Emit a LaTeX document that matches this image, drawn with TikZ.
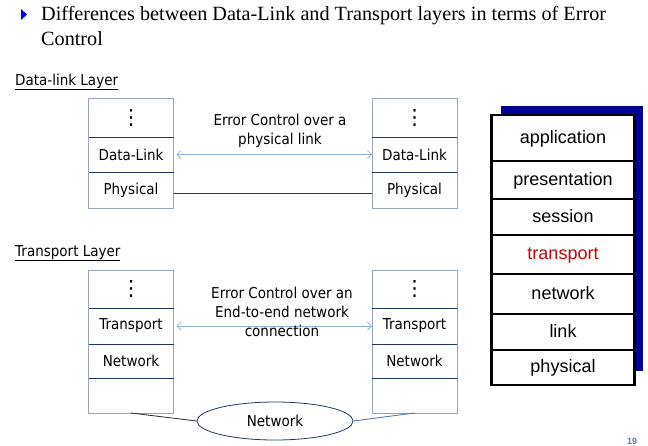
\documentclass[tikz,border=0pt]{standalone}
\usepackage{fontspec}
\setmainfont{Liberation Serif}
\newfontfamily\tahoma[FakeStretch=0.9]{DejaVu Sans}
\newfontfamily\dejavu{DejaVu Sans}
\newfontfamily\arial{Liberation Sans}
\usetikzlibrary{arrows.meta,shapes.geometric,positioning}
\definecolor{framegray}{RGB}{150,165,195}
\definecolor{navy}{RGB}{31,56,100}
\definecolor{linkblue}{RGB}{141,179,226}
\definecolor{netblue}{RGB}{79,111,168}
\definecolor{osinavy}{RGB}{0,0,150}
\definecolor{osired}{RGB}{204,0,0}
\definecolor{bulletblue}{RGB}{0,0,255}
\definecolor{pagegray}{RGB}{90,125,165}
\newcommand{\stackdots}{{\dejavu\fontsize{21}{21}\selectfont ⋮}}

\begin{document}
\begin{tikzpicture}[x=1pt,y=-1pt,
  stackcell/.style={minimum width=85pt,inner sep=0pt,outer sep=0pt,font=\tahoma\fontsize{15}{18}\selectfont},
  stackframe/.style={draw=framegray,line width=0.8pt},
  divider/.style={draw=navy,line width=1pt},
  osicell/.style={draw=black,fill=white,line width=2.4pt,minimum width=143pt,inner sep=0pt,outer sep=0pt,
    text height=13pt,text depth=3pt,font=\arial\fontsize{18}{21}\selectfont},
  peerlink/.style={linkblue,line width=0.8pt,{Straight Barb[length=4pt,width=8pt]}-{Straight Barb[length=4pt,width=8pt]}},
  linknote/.style={align=center,font=\tahoma\fontsize{15}{19}\selectfont},
  heading/.style={anchor=base west,inner sep=0pt,font=\tahoma\fontsize{15}{18}\selectfont}]
\useasboundingbox (0,0) rectangle (648,445);

% title
\fill[bulletblue] (21,9) -- (27,14.5) -- (21,20) -- cycle;
\node[anchor=north west,inner sep=0pt,align=left,font=\fontsize{20.2}{25}\selectfont] (title) at (41,6.3)
  {Differences between Data-Link and Transport layers in terms of Error\\Control};

% data-link layer
\node[heading] (dlhead) at (15,85) {\underline{Data-link Layer}};
\node[stackcell,minimum height=39pt] (dlAdots) at (131,117.5) {\stackdots};
\node[stackcell,minimum height=35pt] (dlAlink) at (131,154.5) {Data-Link};
\node[stackcell,minimum height=36pt] (dlAphys) at (131,190) {Physical};
\node[stackcell,minimum height=39pt] (dlBdots) at (414.5,117.5) {\stackdots};
\node[stackcell,minimum height=35pt] (dlBlink) at (414.5,154.5) {Data-Link};
\node[stackcell,minimum height=36pt] (dlBphys) at (414.5,190) {Physical};
\foreach \s in {dlA,dlB} {
  \draw[stackframe] (\s dots.north west) rectangle (\s phys.south east);
  \draw[divider] (\s dots.south west) -- (\s dots.south east);
  \draw[divider] (\s link.south west) -- (\s link.south east);
}
\draw[peerlink,shorten <=3pt] (dlAlink) -- (dlBlink);
\draw[navy,line width=1pt] ([yshift=-3pt]dlAphys.east) -- ([yshift=-3pt]dlBphys.west);
\node[linknote] (dlnote) at (280,131) {Error Control over a\\physical link};

% transport layer
\node[heading] (tphead) at (15,256) {\underline{Transport Layer}};
\node[stackcell,minimum height=38pt] (tpAdots) at (131,289) {\stackdots};
\node[stackcell,minimum height=36pt] (tpAtrans) at (131,326) {Transport};
\node[stackcell,minimum height=34pt] (tpAnet) at (131,361) {Network};
\node[stackcell,minimum height=35pt] (tpAempty) at (131,395.5) {};
\node[stackcell,minimum height=38pt] (tpBdots) at (414.5,289) {\stackdots};
\node[stackcell,minimum height=36pt] (tpBtrans) at (414.5,326) {Transport};
\node[stackcell,minimum height=34pt] (tpBnet) at (414.5,361) {Network};
\node[stackcell,minimum height=35pt] (tpBempty) at (414.5,395.5) {};
\foreach \s in {tpA,tpB} {
  \draw[stackframe] (\s dots.north west) rectangle (\s empty.south east);
  \draw[divider] (\s dots.south west) -- (\s dots.south east);
  \draw[divider] (\s trans.south west) -- (\s trans.south east);
  \draw[divider] (\s net.south west) -- (\s net.south east);
}
\draw[peerlink,shorten <=3pt] (tpAtrans) -- (tpBtrans);
\node[linknote] (tpnote) at (282,312) {Error Control over an\\End-to-end network\\connection};
\node[ellipse,draw=navy,line width=0.8pt,minimum width=156pt,minimum height=38pt,inner sep=0pt,
  font=\tahoma\fontsize{15}{18}\selectfont] (cloud) at (275,421) {Network};
\draw[black!85,line width=0.8pt] (tpAempty.south) -- (cloud.west);
\draw[netblue,line width=0.8pt] (cloud.east) -- (tpBempty.south);

% OSI stack
\fill[osinavy] (501,106) rectangle (643,371);
\foreach \n/\t/\c/\y/\h in {app/application/black/138/46, pres/presentation/black/180/38,
  sess/session/black/217/36, trans/transport/osired/254.5/39, net/network/black/294/40,
  link/link/black/332/36, phys/physical/black/367.5/35} {
  \node[osicell,minimum height=\h pt,text=\c] (osi\n) at (563,\y) {\t};
}

\node[anchor=north,inner sep=0pt,text=pagegray,font=\arial\bfseries\fontsize{9}{10}\selectfont] (page) at (632,438) {19};
\end{tikzpicture}
\end{document}
